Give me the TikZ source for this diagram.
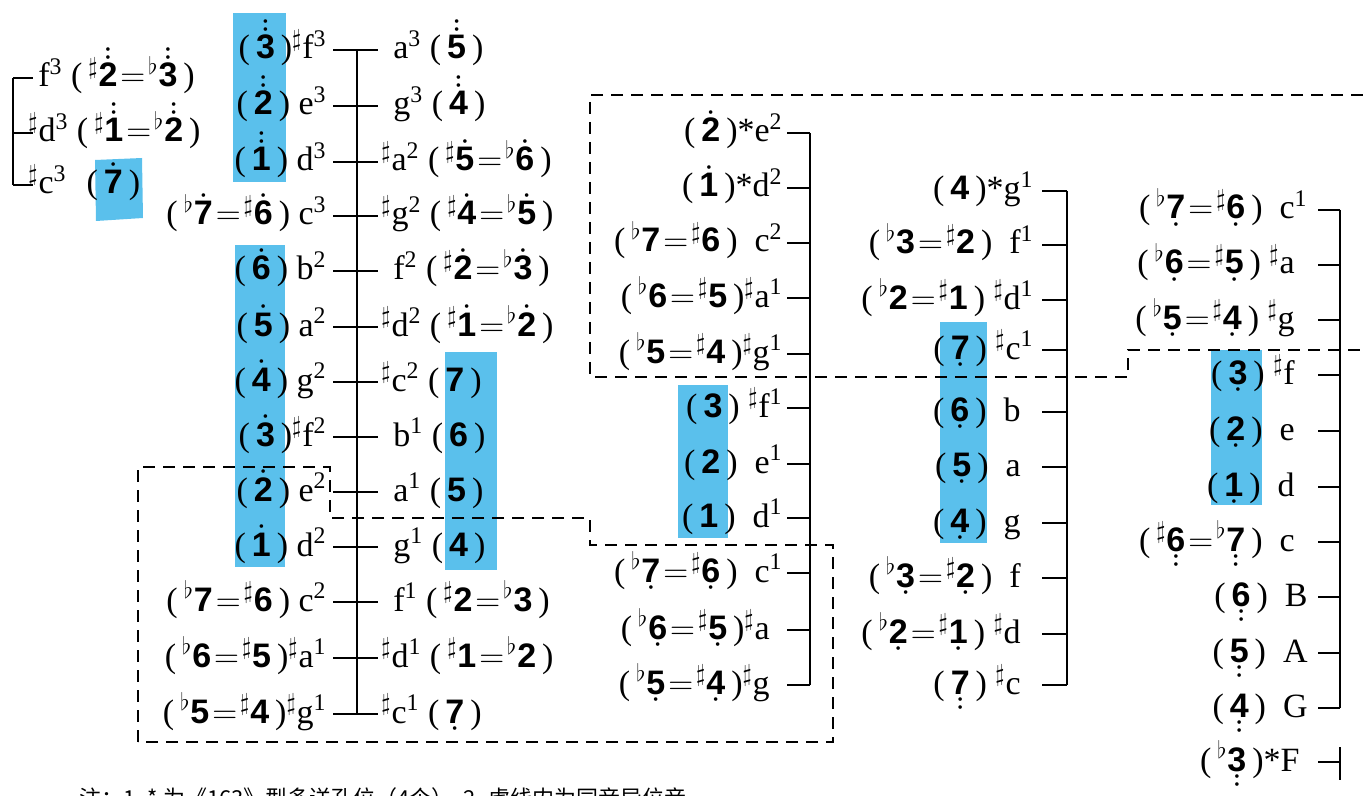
\documentclass[tikz,border=0pt]{standalone}
\usepackage{fontspec}
\setmainfont{Liberation Serif}
\setsansfont{Liberation Sans}
\newfontfamily\cjk{Noto Sans CJK SC}
\usetikzlibrary{positioning}

\definecolor{marker}{RGB}{90,192,236}

% jianpu digits with octave dots
\newcommand\dg[1]{{\sffamily\bfseries #1}}
\newcommand\dt{{\fontsize{7.5}{7.5}\selectfont\textbullet}}
\newcommand\ua[1]{\ooalign{\dg{#1}\cr\hidewidth\raisebox{12.4pt}{\dt}\hidewidth\cr}}
\newcommand\uu[1]{\ooalign{\dg{#1}\cr\hidewidth\raisebox{12.4pt}{\dt}\hidewidth\cr
                  \hidewidth\raisebox{16.2pt}{\dt}\hidewidth\cr}}
\newcommand\da[1]{\ooalign{\dg{#1}\cr\hidewidth\raisebox{-5.2pt}{\dt}\hidewidth\cr}}
\newcommand\daa[1]{\ooalign{\dg{#1}\cr\hidewidth\raisebox{-5.2pt}{\dt}\hidewidth\cr
                   \hidewidth\raisebox{-9pt}{\dt}\hidewidth\cr}}
\newcommand\sh{\textsuperscript{$\sharp$}}
\newcommand\fl{\textsuperscript{$\flat$}}
\newcommand\su[1]{\textsuperscript{#1}}
\newcommand\eq{\kern1.5pt$=$\kern1.5pt}
\newcommand\pa[1]{(\kern3pt#1\kern3pt)}
\newcommand\nosu{\phantom{\su{1}}}

\begin{document}
\begin{tikzpicture}[
    x=0.5pt, y=-0.5pt,
    font=\fontsize{17}{20}\selectfont,
    nl/.style={anchor=base east, inner sep=0pt},
    nr/.style={anchor=base west, inner sep=0pt},
    tick/.style={line width=1pt},
    guide/.style={line width=1pt, dash pattern=on 6pt off 4pt},
    hl/.style={fill=marker, draw=none},
]
\useasboundingbox (0,0) rectangle (1363,796);
\clip (0,0) rectangle (1363,796);

% --- marker highlights ---
\fill[hl] (233,13) rectangle (286,182);
\fill[hl] (95,160) -- (142,158) -- (143,218) -- (96,221) -- cycle;
\fill[hl] (235,245) rectangle (285,567);
\fill[hl] (445,352) rectangle (497,570);
\fill[hl] (678,385) rectangle (728,538);
\fill[hl] (940,322) rectangle (987,543);
\fill[hl] (1211,350) rectangle (1262,505);

% --- bracket group (top left) ---
\coordinate (gtop) at (13,78);
\coordinate (gbot) at (13,185);
\draw[tick] (gtop) -- (gbot);
\foreach \y/\t [count=\i] in {78/{\hspace{5pt}f\su{3} \pa{\sh\uu{2}\eq\fl\uu{3}}},
                              133/{\sh d\su{3} \pa{\sh\uu{1}\eq\fl\uu{2}}},
                              185/{\sh c\su{3}\hspace{10pt}\pa{\ua{7}}}}{
  \coordinate (gt\i) at (13,\y);
  \draw[tick] (gt\i) -- ++(20,0);
  \node[nr] (g\i) at (28,\y+9) {\t};
}

% --- left column: spine with notes on both sides ---
\foreach \y [count=\i] in {50,106,162,216,271,327,382,437,492,547,602,658,714}{
  \coordinate (ls\i) at (357,\y);
  \draw[tick] ([xshift=-12pt]ls\i) -- ([xshift=10.5pt]ls\i);
}
\draw[tick] (ls1) -- (ls13);

\foreach \y/\t [count=\i] in {50/{\pa{\uu{3}}\sh f\su{3}},
                              106/{\pa{\uu{2}} e\su{3}},
                              162/{\pa{\uu{1}} d\su{3}},
                              216/{\pa{\fl\ua{7}\eq\sh\ua{6}} c\su{3}},
                              271/{\pa{\ua{6}} b\su{2}},
                              327/{\pa{\ua{5}} a\su{2}},
                              382/{\pa{\ua{4}} g\su{2}},
                              437/{\pa{\ua{3}}\sh f\su{2}},
                              492/{\pa{\ua{2}} e\su{2}},
                              547/{\pa{\ua{1}} d\su{2}},
                              602/{\pa{\fl\dg{7}\eq\sh\dg{6}} c\su{2}},
                              658/{\pa{\fl\dg{6}\eq\sh\dg{5}}\sh a\su{1}},
                              714/{\pa{\fl\dg{5}\eq\sh\dg{4}}\sh g\su{1}}}
  \node[nl] (lc\i) at (327,\y+9) {\t};

\foreach \y/\t [count=\i] in {50/{\hspace{6pt}a\su{3} \pa{\uu{5}}},
                              106/{\hspace{6pt}g\su{3} \pa{\uu{4}}},
                              162/{\sh a\su{2} \pa{\sh\ua{5}\eq\fl\ua{6}}},
                              216/{\sh g\su{2} \pa{\sh\ua{4}\eq\fl\ua{5}}},
                              271/{\hspace{6pt}f\su{2} \pa{\sh\ua{2}\eq\fl\ua{3}}},
                              327/{\sh d\su{2} \pa{\sh\ua{1}\eq\fl\ua{2}}},
                              382/{\sh c\su{2} \pa{\dg{7}}},
                              437/{\hspace{6pt}b\su{1} \pa{\dg{6}}},
                              492/{\hspace{6pt}a\su{1} \pa{\dg{5}}},
                              547/{\hspace{6pt}g\su{1} \pa{\dg{4}}},
                              602/{\hspace{6pt}f\su{1} \pa{\sh\dg{2}\eq\fl\dg{3}}},
                              658/{\sh d\su{1} \pa{\sh\dg{1}\eq\fl\dg{2}}},
                              714/{\sh c\su{1} \pa{\da{7}}}}
  \node[nr] (rc\i) at (381,\y+9) {\t};

% --- block 1 ---
\foreach \y/\t [count=\i] in {133/{\pa{\ua{2}}*e\su{2}},
                              188/{\pa{\ua{1}}*d\su{2}},
                              243/{\pa{\fl\dg{7}\eq\sh\dg{6}}\ \ c\su{2}},
                              298/{\pa{\fl\dg{6}\eq\sh\dg{5}}\sh a\su{1}},
                              354/{\pa{\fl\dg{5}\eq\sh\dg{4}}\sh g\su{1}},
                              408/{\pa{\dg{3}}\ \sh f\su{1}},
                              464/{\pa{\dg{2}}\ \ e\su{1}},
                              518/{\pa{\dg{1}}\ \ d\su{1}},
                              573/{\pa{\fl\da{7}\eq\sh\da{6}}\ \ c\su{1}},
                              630/{\pa{\fl\da{6}\eq\sh\da{5}}\sh a\nosu},
                              685/{\pa{\fl\da{5}\eq\sh\da{4}}\sh g\nosu}}{
  \node[nl] (a\i) at (783,\y+9) {\t};
  \coordinate (as\i) at (810,\y);
  \draw[tick] (as\i) -- ++(-23,0);
}
\draw[tick] (as1) -- (as11);

% --- block 2 ---
\foreach \y/\t [count=\i] in {191/{\pa{\dg{4}}*g\su{1}},
                              245/{\pa{\fl\dg{3}\eq\sh\dg{2}}\ \ f\su{1}},
                              300/{\pa{\fl\dg{2}\eq\sh\dg{1}}\ \sh d\su{1}},
                              350/{\pa{\da{7}}\ \sh c\su{1}},
                              412/{\pa{\da{6}}\ \ b\nosu},
                              467/{\pa{\da{5}}\ \ a\nosu},
                              523/{\pa{\da{4}}\ \ g\nosu},
                              578/{\pa{\fl\da{3}\eq\sh\da{2}}\ \ f\nosu},
                              634/{\pa{\fl\da{2}\eq\sh\da{1}}\ \sh d\nosu},
                              685/{\pa{\daa{7}}\ \sh c\nosu}}{
  \node[nl] (b\i) at (1034,\y+9) {\t};
  \coordinate (bs\i) at (1067,\y);
  \draw[tick] (bs\i) -- ++(-25,0);
}
\draw[tick] (bs1) -- (bs10);

% --- right block ---
\foreach \y/\t [count=\i] in {210/{\pa{\fl\da{7}\eq\sh\da{6}}\ \ c\su{1}},
                              265/{\pa{\fl\da{6}\eq\sh\da{5}}\ \sh a\nosu},
                              320/{\pa{\fl\da{5}\eq\sh\da{4}}\ \sh g\nosu},
                              375/{\pa{\da{3}}\ \sh f\nosu},
                              431/{\pa{\da{2}}\ \ e\nosu},
                              487/{\pa{\da{1}}\ \ d\nosu},
                              542/{\pa{\sh\daa{6}\eq\fl\daa{7}}\ \ c\nosu},
                              597/{\pa{\daa{6}}\ \ B},
                              653/{\pa{\daa{5}}\ \ A},
                              708/{\pa{\daa{4}}\ \ G}}{
  \node[nl] (c\i) at (1308,\y+9) {\t};
  \coordinate (cs\i) at (1340,\y);
  \draw[tick] (cs\i) -- ++(-22,0);
}
\draw[tick] (cs1) -- (cs10);
\node[nl] (cF) at (1300,762+9) {\pa{\fl\daa{3}}*F};
\coordinate (csF) at (1340,762);
\draw[tick] (csF) -- ++(-22,0);
\draw[tick] ([yshift=7.5pt]csF) -- ([yshift=-9pt]csF);

% --- enharmonic areas (dashed) ---
\draw[guide] (1363,95) -| (590,377) -| (1128,350) -- (1363,350);
\draw[guide] (138,742) |- (330,467) |- (590,518) |- (833,545) |- (138,742) -- cycle;

% --- footnote (cut at page edge) ---
\node[anchor=west, font=\cjk\fontsize{11}{13}\selectfont] (note) at (72,798)
  {注：1. * 为《163》型多送孔位（4个）\ \ 2. 虚线内为同音异位音};

\end{tikzpicture}
\end{document}
